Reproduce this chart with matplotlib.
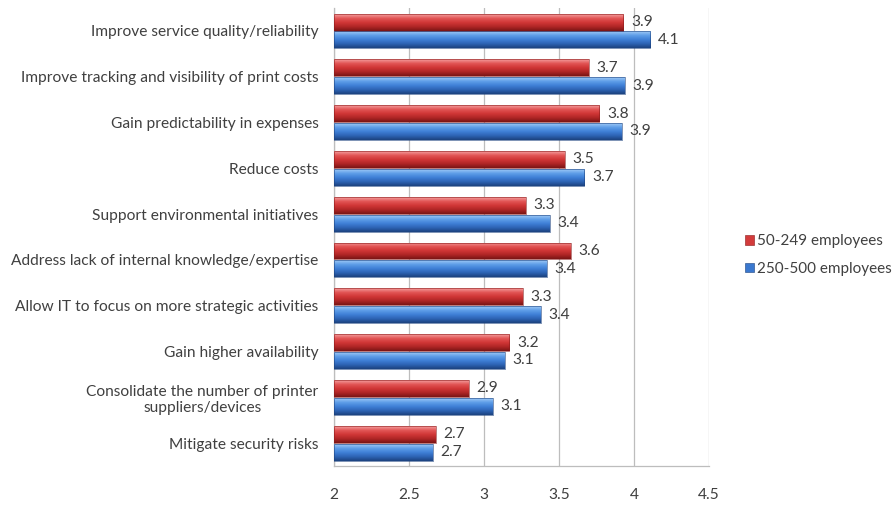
import numpy as np
import matplotlib
matplotlib.use("Agg")
import matplotlib.pyplot as plt
from matplotlib.colors import LinearSegmentedColormap
from matplotlib.patches import Patch

plt.rcParams["font.family"] = ["Lato", "DejaVu Sans"]

categories = [
    "Improve service quality/reliability",
    "Improve tracking and visibility of print costs",
    "Gain predictability in expenses",
    "Reduce costs",
    "Support environmental initiatives",
    "Address lack of internal knowledge/expertise",
    "Allow IT to focus on more strategic activities",
    "Gain higher availability",
    "Consolidate the number of printer\nsuppliers/devices",
    "Mitigate security risks",
]
small = [3.93, 3.70, 3.77, 3.54, 3.28, 3.58, 3.26, 3.17, 2.90, 2.68]
medium = [4.11, 3.94, 3.92, 3.67, 3.44, 3.42, 3.38, 3.14, 3.06, 2.66]
series_names = ["50-249 employees", "250-500 employees"]
xticks = [2, 2.5, 3, 3.5, 4, 4.5]

TXT = "#404040"
FS = 11.2
RED_MAP = LinearSegmentedColormap.from_list(
    "r", ["#f4a0a0", "#e25555", "#d03636", "#b02626", "#7a1515"])
BLUE_MAP = LinearSegmentedColormap.from_list(
    "b", ["#a0c9f6", "#5e9ee8", "#3f7fd6", "#2d63b4", "#1c427e"])

fig = plt.figure(figsize=(8.92, 5.05), dpi=100)
ax = fig.add_axes([0.3744, 0.0772, 0.4204, 0.9068])

y = np.arange(len(categories))
h = 0.37
off = 0.195
grad = np.linspace(0, 1, 64).reshape(-1, 1)


def shaded(bars, cmap):
    for b in bars:
        x0, y0 = b.get_x(), b.get_y()
        w, hh = b.get_width(), b.get_height()
        b.set_facecolor("none")
        im = ax.imshow(grad, cmap=cmap, aspect="auto", interpolation="bilinear",
                       extent=(x0, x0 + w, y0 + hh, y0), zorder=3)
        im.set_clip_path(b)


bars_r = ax.barh(y - off, [v - 2 for v in small], left=2, height=h,
                 edgecolor="#8a1a1a", linewidth=0.4, zorder=4)
bars_b = ax.barh(y + off, [v - 2 for v in medium], left=2, height=h,
                 edgecolor="#1c427e", linewidth=0.4, zorder=4)
shaded(bars_r, RED_MAP)
shaded(bars_b, BLUE_MAP)

for yi, v in zip(y - off, small):
    ax.text(v + 0.05, yi, f"{v:.1f}", va="center", ha="left",
            fontsize=FS, color=TXT)
for yi, v in zip(y + off, medium):
    ax.text(v + 0.05, yi, f"{v:.1f}", va="center", ha="left",
            fontsize=FS, color=TXT)

ax.set_xlim(2, 4.5)
ax.set_ylim(len(categories) - 0.5, -0.5)
ax.set_xticks(xticks)
ax.set_xticklabels([f"{t:g}" for t in xticks], fontsize=FS, color=TXT)
ax.set_yticks(y)
ax.set_yticklabels(categories, fontsize=FS, color=TXT, multialignment="center")
ax.tick_params(axis="both", length=0)
ax.tick_params(axis="x", pad=15.5)
ax.tick_params(axis="y", pad=11)
ax.grid(axis="x", color="#bdbdbd", linewidth=0.9, zorder=0)
ax.set_axisbelow(True)
for s in ["top", "right"]:
    ax.spines[s].set_visible(False)
for s in ["left", "bottom"]:
    ax.spines[s].set_color("#bdbdbd")
    ax.spines[s].set_linewidth(0.9)

handles = [Patch(facecolor="#d33b3b", edgecolor="#8a1a1a", linewidth=0.4),
           Patch(facecolor="#3a78cf", edgecolor="#1c427e", linewidth=0.4)]
fig.legend(handles, series_names, loc="center left",
           bbox_to_anchor=(0.828, 0.495), frameon=False, fontsize=11.0,
           handlelength=0.6, handleheight=0.6, handletextpad=0.2,
           labelspacing=0.9, labelcolor=TXT, borderaxespad=0.0)

fig.savefig("out.png", dpi=100)
